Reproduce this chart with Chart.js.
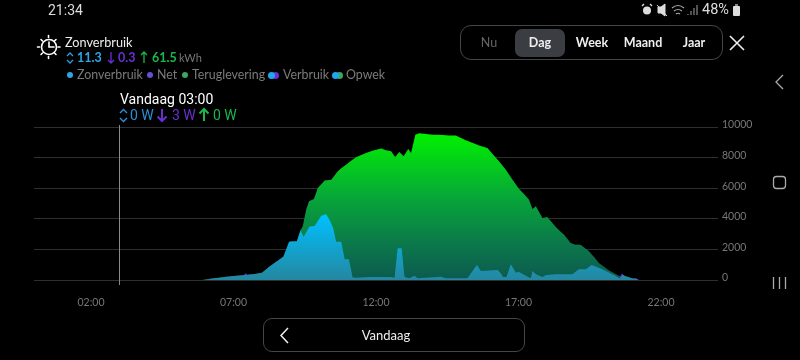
<!DOCTYPE html>
<html>
<head>
<meta charset="utf-8">
<script src="https://cdn.jsdelivr.net/npm/chart.js@4"></script>
<style>
  html, body { margin: 0; background: #000; width: 800px; height: 360px; overflow: hidden; }
  #chart { position: absolute; left: 0; top: 0; }
  .t { position: absolute; white-space: nowrap; font-family: Lato, sans-serif; line-height: 18px; height: 18px; }
  .c { transform: translateX(-50%); }
  .leg { color: #7b7b7b; font-size: 12.4px; top: 66px; }
  .dot { position: absolute; width: 6px; height: 6px; border-radius: 50%; top: 72px; }
  .hov { font-family: Roboto, sans-serif; font-size: 14px; top: 106px; }
  .num { font-size: 12.5px; font-weight: 700; top: 49px; }
  .seg { color: #eee; font-size: 12.5px; font-weight: 700; top: 34px; }
  svg { position: absolute; overflow: visible; }
  .box { position: absolute; box-sizing: border-box; border: 1px solid #454545; }
</style>
</head>
<body>
<canvas id="chart" width="800" height="360"></canvas>

<div class="t" style="left:48px;top:1px;color:#ddd;font:14px/18px Roboto,sans-serif">21:34</div>
<div class="t" style="left:702px;top:1px;color:#ddd;font:14.5px/18px Roboto,sans-serif">48%</div>
<svg style="left:0;top:0" width="800" height="360" fill="none" stroke="#ddd">
  <!-- status bar -->
  <circle cx="647" cy="10.5" r="4" fill="#ddd" stroke="none"/>
  <path d="M642 6l2-2M652 6l-2-2" stroke-width="1.4"/>
  <path d="M658 7h3l4-3v12l-4-3h-3zM657 5l10 11" fill="#ddd" stroke-width="1"/>
  <path d="M672 8q6-5 12 0M674 11q4-3 8 0M676 14q2-1.500 4 0" stroke-width="1.200" stroke="#aaa"/>
  <path d="M688 15v-1M691 15v-4M694 15v-7M697 15v-10" stroke-width="1.200" stroke="#888"/>
  <rect x="733" y="6" width="7" height="10" rx="1" fill="#ddd" stroke="none"/>
  <rect x="735" y="4" width="3" height="2" fill="#888" stroke="none"/>
  <!-- sun clock icon -->
  <g stroke="#fff" stroke-width="1.600" stroke-linecap="round">
    <circle cx="49" cy="47" r="7.500"/>
    <path d="M49 42v5h5M48.500 35.500v2M48.500 56.500v2M37.500 47h2M58 47h2M41 39.500l1.500 1.500M56 39.500l-1.500 1.500M41 54.500l1.500-1.500M56 54.500l-1.500-1.500"/>
  </g>
  <!-- stats row icons -->
  <path d="M67 56l3-3 3 3M67 60l3 3 3-3" stroke="#2a9fe0" stroke-width="1.300"/>
  <path d="M111 52v11M108 60l3 3 3-3" stroke="#6a2fd0" stroke-width="1.300"/>
  <path d="M144 63v-11M141 55l3-3 3 3" stroke="#18b84a" stroke-width="1.300"/>
  <!-- hover row icons -->
  <path d="M120 113l3.500-3.500 3.500 3.500M120 118l3.500 3.500 3.500-3.500" stroke="#2a8fd8" stroke-width="1.400"/>
  <path d="M162 109v12M157.500 116.500l4.500 4.500 4.500-4.500" stroke="#6a2fd0" stroke-width="2"/>
  <path d="M204 121v-12M199.500 113.500l4.500-4.500 4.500 4.500" stroke="#18b84a" stroke-width="2"/>
  <!-- close, back, android nav -->
  <path d="M730 36l14 14M744 36l-14 14" stroke="#eee" stroke-width="1.600"/>
  <path d="M783 75l-7 7 7 7" stroke="#aaa" stroke-width="1.300"/>
  <rect x="773.500" y="176.500" width="12" height="12" rx="3" stroke="#aaa" stroke-width="1.300"/>
  <path d="M773.500 277v12M779.500 277v12M785.500 277v12" stroke="#aaa" stroke-width="1.300"/>
  <path d="M288 328l-7 7.500 7 7.500" stroke="#eee" stroke-width="1.500"/>
</svg>

<div class="t" style="left:65px;top:33px;color:#eee;font-size:12.7px">Zonverbruik</div>
<div class="t num" style="left:77px;color:#2aa7e8">11.3</div>
<div class="t num" style="left:118px;color:#6a2fd0">0.3</div>
<div class="t num" style="left:152px;color:#18b84a">61.5</div>
<div class="t" style="left:179px;top:49px;color:#777;font-size:11px">kWh</div>

<div class="dot" style="left:67px;background:#2aa7e8"></div>
<div class="t leg" style="left:77px">Zonverbruik</div>
<div class="dot" style="left:147px;background:#6a4fd0"></div>
<div class="t leg" style="left:157px">Net</div>
<div class="dot" style="left:182px;background:#3aa860"></div>
<div class="t leg" style="left:192px">Teruglevering</div>
<div class="dot" style="left:272px;width:7px;height:7px;background:#6a2fd0"></div>
<div class="dot" style="left:268px;width:7px;height:7px;background:#1fa8f0"></div>
<div class="t leg" style="left:283px">Verbruik</div>
<div class="dot" style="left:336px;width:7px;height:7px;background:#3aa860"></div>
<div class="dot" style="left:332px;width:7px;height:7px;background:#1fa8f0"></div>
<div class="t leg" style="left:346px">Opwek</div>

<div class="t" style="left:120px;top:90px;color:#fff;font:14px/18px Roboto,sans-serif">Vandaag 03:00</div>
<div class="t hov" style="left:130px;color:#2a8fd8">0 W</div>
<div class="t hov" style="left:172px;color:#6a2fd0">3 W</div>
<div class="t hov" style="left:213px;color:#18b84a">0 W</div>

<div class="box" style="left:460px;top:25px;width:263px;height:35px;border-radius:11px"></div>
<div class="box" style="left:515px;top:29px;width:50px;height:28px;border-radius:7px;background:#3a3d42;border:0"></div>
<div class="t seg c" style="left:489px;color:#666;font-weight:400">Nu</div>
<div class="t seg c" style="left:540px">Dag</div>
<div class="t seg c" style="left:592px">Week</div>
<div class="t seg c" style="left:643px">Maand</div>
<div class="t seg c" style="left:694px">Jaar</div>

<div class="box" style="left:263px;top:318px;width:262px;height:34px;border-radius:9px"></div>
<div class="t c" style="left:386px;top:326px;color:#eee;font-size:13px">Vandaag</div>

<script>
// hours of the day
const tickHours = [2, 7, 12, 17, 22];
const yTicks = [0, 2000, 4000, 6000, 8000, 10000];
const hoverHour = 3;

const opwekHours = [5.9, 6.25, 7, 7.75, 8, 8.5, 9, 9.25, 9.35, 9.43, 9.55, 9.65, 9.82, 9.96, 10.2, 10.43, 10.66, 10.8, 10.95, 11.15, 11.3, 11.48, 11.65, 11.9, 12.18, 12.35, 12.53, 12.67, 12.82, 12.97, 13.13, 13.23, 13.38, 13.52, 13.99, 14.2, 14.57, 14.8, 15.15, 15.4, 15.62, 15.91, 16.09, 16.3, 16.55, 16.79, 17.02, 17.2, 17.37, 17.49, 17.61, 17.84, 18.01, 18.15, 18.31, 18.45, 18.6, 18.83, 19, 19.18, 19.47, 19.65, 19.82, 20, 20.17, 20.52, 20.99, 21.22];
const opwekValues = [0, 90, 260, 390, 480, 1200, 1600, 2530, 3250, 3510, 4600, 5145, 5300, 6020, 6500, 6560, 7100, 7330, 7540, 7830, 8020, 8170, 8300, 8470, 8590, 8480, 8410, 8040, 8370, 8090, 8570, 8300, 9500, 9590, 9500, 9490, 9450, 9440, 9130, 8950, 8785, 8630, 8240, 7800, 7215, 6560, 5950, 5600, 5250, 4640, 4820, 4055, 4120, 3800, 3470, 3200, 2965, 2420, 2310, 2310, 1875, 1500, 1110, 860, 630, 280, 110, 10];

const zonHours = [5.9, 6, 6.25, 6.5, 6.75, 7, 7.25, 7.5, 7.75, 8, 8.25, 8.5, 8.75, 8.95, 9.05, 9.22, 9.35, 9.46, 9.67, 9.85, 10.08, 10.25, 10.37, 10.5, 10.6, 10.78, 10.9, 11.05, 11.18, 11.3, 11.77, 12.5, 12.65, 12.76, 12.9, 13, 13.17, 13.35, 13.46, 14.28, 14.45, 15.21, 15.39, 15.54, 15.68, 16.27, 16.36, 16.46, 16.58, 16.73, 16.91, 17, 17.26, 17.43, 17.49, 17.61, 17.84, 17.96, 18.31, 18.89, 19.12, 19.36, 19.57, 19.94, 20.41, 20.56, 20.64, 20.99, 21.22];
const zonValues = [0, 20, 90, 150, 220, 260, 300, 340, 390, 480, 870, 1200, 1530, 2500, 2530, 2530, 3250, 2830, 3490, 3530, 4200, 4300, 3920, 3380, 2500, 2500, 1350, 1350, 170, 150, 190, 190, 150, 2070, 2070, 200, 110, 280, 110, 220, 110, 110, 590, 980, 590, 650, 480, 200, 200, 1025, 480, 545, 280, 110, 590, 370, 200, 330, 370, 370, 700, 700, 980, 700, 260, 90, 330, 110, 10];

// null breaks the net series between its small spikes
const netHours = [7.35, 7.42, 7.49, 12, 20.55, 20.63, 20.72, 20.9, 21.05, 21.12, 21.2];
const netValues = [300, 440, 320, null, 180, 430, 280, null, 90, 130, 20];

function toPoints(hours, values) {
  return hours.map((h, i) => ({ x: h, y: values[i] }));
}

function gradient(context, colors, stops) {
  const area = context.chart.chartArea;
  if (!area) return colors[0];
  const g = context.chart.ctx.createLinearGradient(0, area.top, 0, area.bottom);
  colors.forEach((c, i) => g.addColorStop(stops[i], c));
  return g;
}

// crosshair at the selected hour
const hoverLine = {
  id: "hoverLine",
  afterDatasetsDraw(chart) {
    const x = chart.scales.x.getPixelForValue(hoverHour);
    const ctx = chart.ctx;
    ctx.save();
    ctx.strokeStyle = "#8a8a8a";
    ctx.lineWidth = 1;
    ctx.beginPath();
    ctx.moveTo(Math.floor(x) + 0.5, chart.chartArea.top - 2);
    ctx.lineTo(Math.floor(x) + 0.5, chart.chartArea.bottom + 5);
    ctx.stroke();
    ctx.restore();
  },
};

new Chart(document.getElementById("chart"), {
  type: "line",
  data: {
    datasets: [
      {
        label: "Zonverbruik",
        data: toPoints(zonHours, zonValues),
        fill: "origin",
        borderWidth: 0,
        pointRadius: 0,
        backgroundColor: (c) => gradient(c, ["#00c0ff", "#00c0ff", "#24879f"], [0, 0.58, 1]),
      },
      {
        label: "Net",
        data: toPoints(netHours, netValues),
        fill: "origin",
        borderWidth: 0,
        pointRadius: 0,
        spanGaps: false,
        backgroundColor: "#7a22d8",
      },
      {
        label: "Opwek",
        data: toPoints(opwekHours, opwekValues),
        fill: "origin",
        borderWidth: 0,
        pointRadius: 0,
        backgroundColor: (c) => gradient(c, ["#00f000", "#00f000", "#07a838", "#0b7a4a", "#0c5a50"], [0, 0.05, 0.45, 0.75, 1]),
      },
    ],
  },
  options: {
    responsive: false,
    animation: false,
    layout: { padding: { left: 34, top: 127, right: 0, bottom: 0 } },
    plugins: { legend: { display: false }, tooltip: { enabled: false } },
    scales: {
      x: {
        type: "linear",
        min: 0,
        max: 24,
        afterBuildTicks: (scale) => {
          scale.ticks = tickHours.map((h) => ({ value: h }));
        },
        afterFit: (scale) => {
          scale.height = 80;
        },
        grid: { display: false },
        border: { display: false },
        ticks: {
          color: "#777",
          padding: 8,
          maxRotation: 0,
          font: { family: "Lato", size: 10.5 },
          callback: (v) => String(v).padStart(2, "0") + ":00",
        },
      },
      y: {
        position: "right",
        min: 0,
        max: 10000,
        afterBuildTicks: (scale) => {
          scale.ticks = yTicks.map((v) => ({ value: v }));
        },
        afterFit: (scale) => {
          scale.width = 82;
        },
        grid: { color: "#2e2e2e", drawTicks: false },
        border: { display: false },
        ticks: {
          color: "#777",
          padding: 4,
          labelOffset: -2,
          font: { family: "Lato", size: 10.5 },
          callback: (v) => String(v),
        },
      },
    },
  },
  plugins: [hoverLine],
});
</script>
</body>
</html>
